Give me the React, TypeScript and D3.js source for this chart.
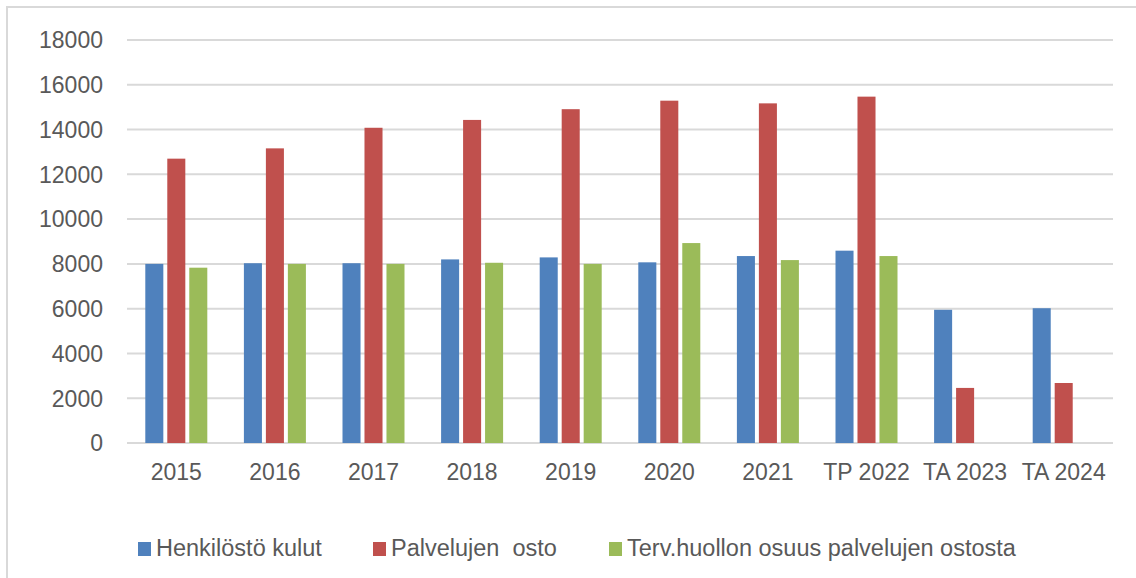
import * as d3 from 'd3';
import { useEffect, useRef } from 'react';

const categories = ['2015', '2016', '2017', '2018', '2019', '2020', '2021', 'TP 2022', 'TA 2023', 'TA 2024'];
const seriesNames = ['Henkilöstö kulut', 'Palvelujen  osto', 'Terv.huollon osuus palvelujen ostosta'];
const henkilostoKulut = [8000, 8030, 8030, 8200, 8290, 8070, 8350, 8590, 5950, 6020];
const palvelujenOsto = [12700, 13160, 14080, 14430, 14910, 15290, 15170, 15470, 2460, 2680];
const tervHuolto: (number | null)[] = [7830, 8000, 8000, 8050, 8000, 8930, 8170, 8350, null, null];
const yTicks = [0, 2000, 4000, 6000, 8000, 10000, 12000, 14000, 16000, 18000];
const colors = ['#4f81bd', '#c0504d', '#9bbb59'];

const App = () => {
  const svgRef = useRef<SVGSVGElement | null>(null);

  useEffect(() => {
    if (!svgRef.current) return;
    const width = 1136;
    const height = 578;
    const font = '"Liberation Sans", Arial, sans-serif';

    const svg = d3.select(svgRef.current)
      .html('')
      .attr('width', width)
      .attr('height', height);

    // chart area border
    svg.append('rect')
      .attr('x', 7).attr('y', 7)
      .attr('width', width + 20).attr('height', height + 20)
      .attr('fill', '#fff')
      .attr('stroke', '#d9d9d9')
      .attr('stroke-width', 2);

    const xScale = d3.scaleBand<string>()
      .domain(categories)
      .range([127, 1113]);

    const x1 = d3.scaleBand<string>()
      .domain(seriesNames)
      .range([-31, 31])
      .paddingInner(0.18);

    const yScale = d3.scaleLinear()
      .domain([0, 18000])
      .range([443, 40]);

    // gridlines
    svg.append('g')
      .selectAll('line')
      .data(yTicks)
      .enter().append('line')
      .attr('x1', 127)
      .attr('x2', 1113)
      .attr('y1', d => yScale(d))
      .attr('y2', d => yScale(d))
      .attr('stroke', '#d9d9d9')
      .attr('stroke-width', 2);

    // y labels
    svg.append('g')
      .selectAll('text')
      .data(yTicks)
      .enter().append('text')
      .attr('x', 103)
      .attr('y', d => yScale(d))
      .attr('dy', '0.36em')
      .attr('text-anchor', 'end')
      .attr('fill', '#595959')
      .style('font-family', font)
      .style('font-size', '23px')
      .text(d => String(d));

    // bars
    const seriesData = [henkilostoKulut, palvelujenOsto, tervHuolto];
    seriesData.forEach((values, si) => {
      svg.append('g')
        .selectAll('rect')
        .data(values.map((v, i) => ({ cat: categories[i], v })).filter(d => d.v != null))
        .enter().append('rect')
        .attr('x', d => xScale(d.cat)! + xScale.bandwidth() / 2 + x1(seriesNames[si])!)
        .attr('y', d => yScale(d.v as number))
        .attr('width', x1.bandwidth())
        .attr('height', d => yScale(0) - yScale(d.v as number))
        .attr('fill', colors[si]);
    });

    // x labels
    svg.append('g')
      .selectAll('text')
      .data(categories)
      .enter().append('text')
      .attr('x', d => xScale(d)! + xScale.bandwidth() / 2)
      .attr('y', 480)
      .attr('text-anchor', 'middle')
      .attr('fill', '#595959')
      .style('font-family', font)
      .style('font-size', '23px')
      .text(d => d);

    // Legend
    const legendX = [138, 373, 609];
    const legend = svg.append('g');
    seriesNames.forEach((name, i) => {
      legend.append('rect')
        .attr('x', legendX[i])
        .attr('y', 542)
        .attr('width', 13)
        .attr('height', 14)
        .attr('fill', colors[i]);
      legend.append('text')
        .attr('x', legendX[i] + 18)
        .attr('y', 556)
        .attr('fill', '#595959')
        .style('font-family', font)
        .style('font-size', '23.5px')
        .style('white-space', 'pre')
        .text(name);
    });
  }, []);

  return <svg ref={svgRef} style={{ position: 'absolute', left: 0, top: 0, display: 'block' }} />;
};

export default App;
